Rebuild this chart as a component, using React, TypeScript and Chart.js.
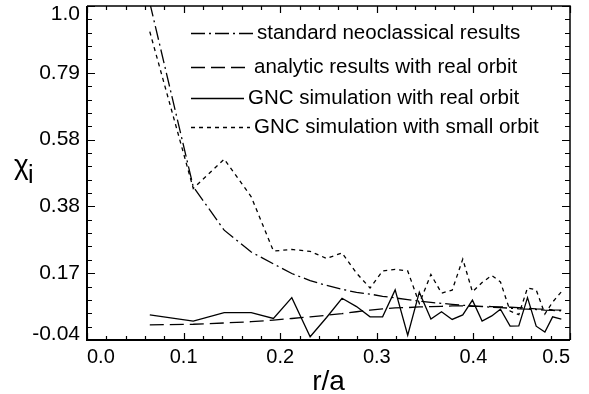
import React, { useEffect, useRef } from 'react';
import { Chart, registerables } from 'chart.js';

Chart.register(...registerables);

// r/a positions of the computed points
const R_A = [0.065, 0.110, 0.142, 0.170, 0.193, 0.212, 0.231, 0.248, 0.264, 0.279, 0.293, 0.306, 0.319, 0.332, 0.344, 0.356, 0.367, 0.378, 0.389, 0.399, 0.409, 0.419, 0.428, 0.438, 0.447, 0.456, 0.465, 0.474, 0.482, 0.491];

const STANDARD_NEO = [1.01, 0.437, 0.302, 0.234, 0.197, 0.167, 0.145, 0.130, 0.118, 0.108, 0.103, 0.096, 0.091, 0.086, 0.081, 0.077, 0.074, 0.071, 0.068, 0.066, 0.064, 0.062, 0.061, 0.059, 0.057, 0.056, 0.055, 0.053, 0.052, 0.051];
const ANALYTIC_REAL = [0.007, 0.009, 0.013, 0.017, 0.022, 0.027, 0.032, 0.037, 0.042, 0.048, 0.053, 0.057, 0.060, 0.061, 0.063, 0.064, 0.065, 0.066, 0.066, 0.065, 0.065, 0.064, 0.063, 0.062, 0.061, 0.059, 0.057, 0.056, 0.054, 0.053];
const GNC_REAL = [0.038, 0.019, 0.045, 0.045, 0.027, 0.092, -0.030, 0.030, 0.090, 0.064, 0.032, 0.032, 0.116, -0.025, 0.109, 0.025, 0.048, 0.024, 0.038, 0.084, 0.019, 0.035, 0.056, 0.003, 0.004, 0.092, 0.003, -0.015, 0.032, 0.025];
const GNC_SMALL = [0.920, 0.432, 0.523, 0.406, 0.237, 0.242, 0.236, 0.214, 0.231, 0.168, 0.122, 0.175, 0.180, 0.175, 0.074, 0.164, 0.106, 0.115, 0.212, 0.110, 0.139, 0.161, 0.141, 0.050, 0.039, 0.122, 0.116, 0.041, 0.078, 0.110];

const SERIES_LABELS = [
  'standard neoclassical results',
  'analytic results with real orbit',
  'GNC simulation with real orbit',
  'GNC simulation with small orbit',
];

const X_TICKS = [0.0, 0.1, 0.2, 0.3, 0.4, 0.5];
const Y_TICKS = [-0.04, 0.168, 0.376, 0.584, 0.792, 1.0];
const Y_TICK_LABELS = ['-0.04', '0.17', '0.38', '0.58', '0.79', '1.0'];
const X_MIN = 0;
const X_MAX = 0.5;
const Y_MIN = -0.04;
const Y_MAX = 1.0;

const FONT = '"Liberation Sans", Arial, Helvetica, sans-serif';

const DASHES = [
  [14, 4, 2, 4],
  [14, 6],
  [],
  [4, 4],
];

const pts = (vals: number[]) => R_A.map((x, i) => ({ x, y: vals[i] }));

const framePlugin = {
  id: 'framePlugin',
  afterDraw(chart: any) {
    const { ctx, chartArea } = chart;
    const { left, right, top, bottom } = chartArea;
    const xs = chart.scales.x;
    const ys = chart.scales.y;
    ctx.save();
    ctx.strokeStyle = '#000';
    ctx.fillStyle = '#000';
    ctx.setLineDash([]);

    // frame
    ctx.lineWidth = 2;
    ctx.beginPath();
    ctx.moveTo(left, top);
    ctx.lineTo(left, bottom);
    ctx.lineTo(right, bottom);
    ctx.stroke();
    ctx.lineWidth = 1.5;
    ctx.beginPath();
    ctx.moveTo(left, top);
    ctx.lineTo(right, top);
    ctx.lineTo(right, bottom);
    ctx.stroke();

    // x ticks (5 subdivisions between major ticks)
    ctx.lineWidth = 1.2;
    for (let i = 0; i < X_TICKS.length; i++) {
      const a = X_TICKS[i];
      const b = i + 1 < X_TICKS.length ? X_TICKS[i + 1] : null;
      const subs = b === null ? [0] : [0, 1, 2, 3, 4];
      for (const k of subs) {
        const v = b === null ? a : a + ((b - a) * k) / 5;
        const px = Math.round(xs.getPixelForValue(v)) + 0.5;
        const len = k === 0 ? 7 : 4;
        ctx.beginPath();
        ctx.moveTo(px, bottom);
        ctx.lineTo(px, bottom - len);
        ctx.moveTo(px, top);
        ctx.lineTo(px, top + len);
        ctx.stroke();
      }
    }
    // y ticks
    for (let i = 0; i < Y_TICKS.length; i++) {
      const a = Y_TICKS[i];
      const b = i + 1 < Y_TICKS.length ? Y_TICKS[i + 1] : null;
      const subs = b === null ? [0] : [0, 1, 2, 3, 4];
      for (const k of subs) {
        const v = b === null ? a : a + ((b - a) * k) / 5;
        const py = Math.round(ys.getPixelForValue(v)) + 0.5;
        const len = k === 0 ? 8 : 5;
        ctx.beginPath();
        ctx.moveTo(left, py);
        ctx.lineTo(left + len, py);
        ctx.moveTo(right, py);
        ctx.lineTo(right - len, py);
        ctx.stroke();
      }
    }

    // y tick labels
    ctx.font = `21px ${FONT}`;
    ctx.textAlign = 'right';
    ctx.textBaseline = 'middle';
    Y_TICKS.forEach((v, i) => {
      let py = ys.getPixelForValue(v);
      py = Math.min(Math.max(py, top + 8.5), bottom - 5.5);
      ctx.fillText(Y_TICK_LABELS[i], left - 7, py);
    });

    // axis titles
    ctx.textAlign = 'left';
    ctx.textBaseline = 'alphabetic';
    ctx.font = `28px ${FONT}`;
    ctx.fillText('\u03C7', 14, 174);
    ctx.font = `25px ${FONT}`;
    ctx.fillText('i', 28, 183);
    ctx.textAlign = 'center';
    ctx.font = `28px ${FONT}`;
    ctx.fillText('r/a', (left + right) / 2, 390);

    // legend
    const rows = [33, 67, 98, 127];
    const textX = [257, 254, 248, 254];
    ctx.font = `20.5px ${FONT}`;
    ctx.textAlign = 'left';
    ctx.textBaseline = 'middle';
    ctx.lineWidth = 1.3;
    SERIES_LABELS.forEach((label, i) => {
      const y = rows[i] + 0.5;
      ctx.setLineDash(DASHES[i]);
      ctx.beginPath();
      ctx.moveTo(191, y);
      ctx.lineTo(textX[i] - 4, y);
      ctx.stroke();
      ctx.setLineDash([]);
      ctx.fillText(label, textX[i], rows[i]);
    });
    ctx.restore();
  },
};

export default function App() {
  const ref = useRef<HTMLCanvasElement>(null);
  useEffect(() => {
    const canvas = ref.current;
    if (!canvas) return;
    const mk = (i: number, vals: number[]) => ({
      label: SERIES_LABELS[i],
      data: pts(vals),
      borderColor: '#000',
      backgroundColor: '#000',
      borderWidth: 1.3,
      borderDash: DASHES[i],
      pointRadius: 0,
      fill: false,
      tension: 0,
      clip: 0,
    });
    const chart = new Chart(canvas, {
      type: 'line',
      data: {
        datasets: [
          mk(0, STANDARD_NEO),
          mk(1, ANALYTIC_REAL),
          mk(2, GNC_REAL),
          mk(3, GNC_SMALL),
        ],
      },
      options: {
        responsive: false,
        animation: false,
        events: [],
        layout: { padding: { top: 6, right: 19, left: 0, bottom: 0 } },
        plugins: {
          legend: { display: false },
          tooltip: { enabled: false },
          title: { display: false },
        },
        scales: {
          x: {
            type: 'linear',
            min: X_MIN,
            max: X_MAX,
            position: 'bottom',
            grid: { display: false, drawTicks: false },
            border: { display: false },
            afterBuildTicks: (s: any) => {
              s.ticks = X_TICKS.map((v) => ({ value: v }));
            },
            afterFit: (s: any) => {
              s.height = 54;
            },
            ticks: {
              align: 'inner',
              autoSkip: false,
              maxRotation: 0,
              padding: 5,
              color: '#000',
              font: { family: FONT, size: 20 },
              callback: (v: any) => Number(v).toFixed(1),
            },
          },
          y: {
            type: 'linear',
            min: Y_MIN,
            max: Y_MAX,
            grid: { display: false, drawTicks: false },
            border: { display: false },
            afterBuildTicks: (s: any) => {
              s.ticks = Y_TICKS.map((v) => ({ value: v }));
            },
            afterFit: (s: any) => {
              s.width = 87;
            },
            ticks: { display: false },
          },
        },
      } as any,
      plugins: [framePlugin],
    });
    return () => chart.destroy();
  }, []);
  return (
    <div style={{ position: 'fixed', left: 0, top: 0, width: 589, height: 394, background: '#fff' }}>
      <canvas ref={ref} width={589} height={394} style={{ display: 'block', width: 589, height: 394 }} />
    </div>
  );
}
